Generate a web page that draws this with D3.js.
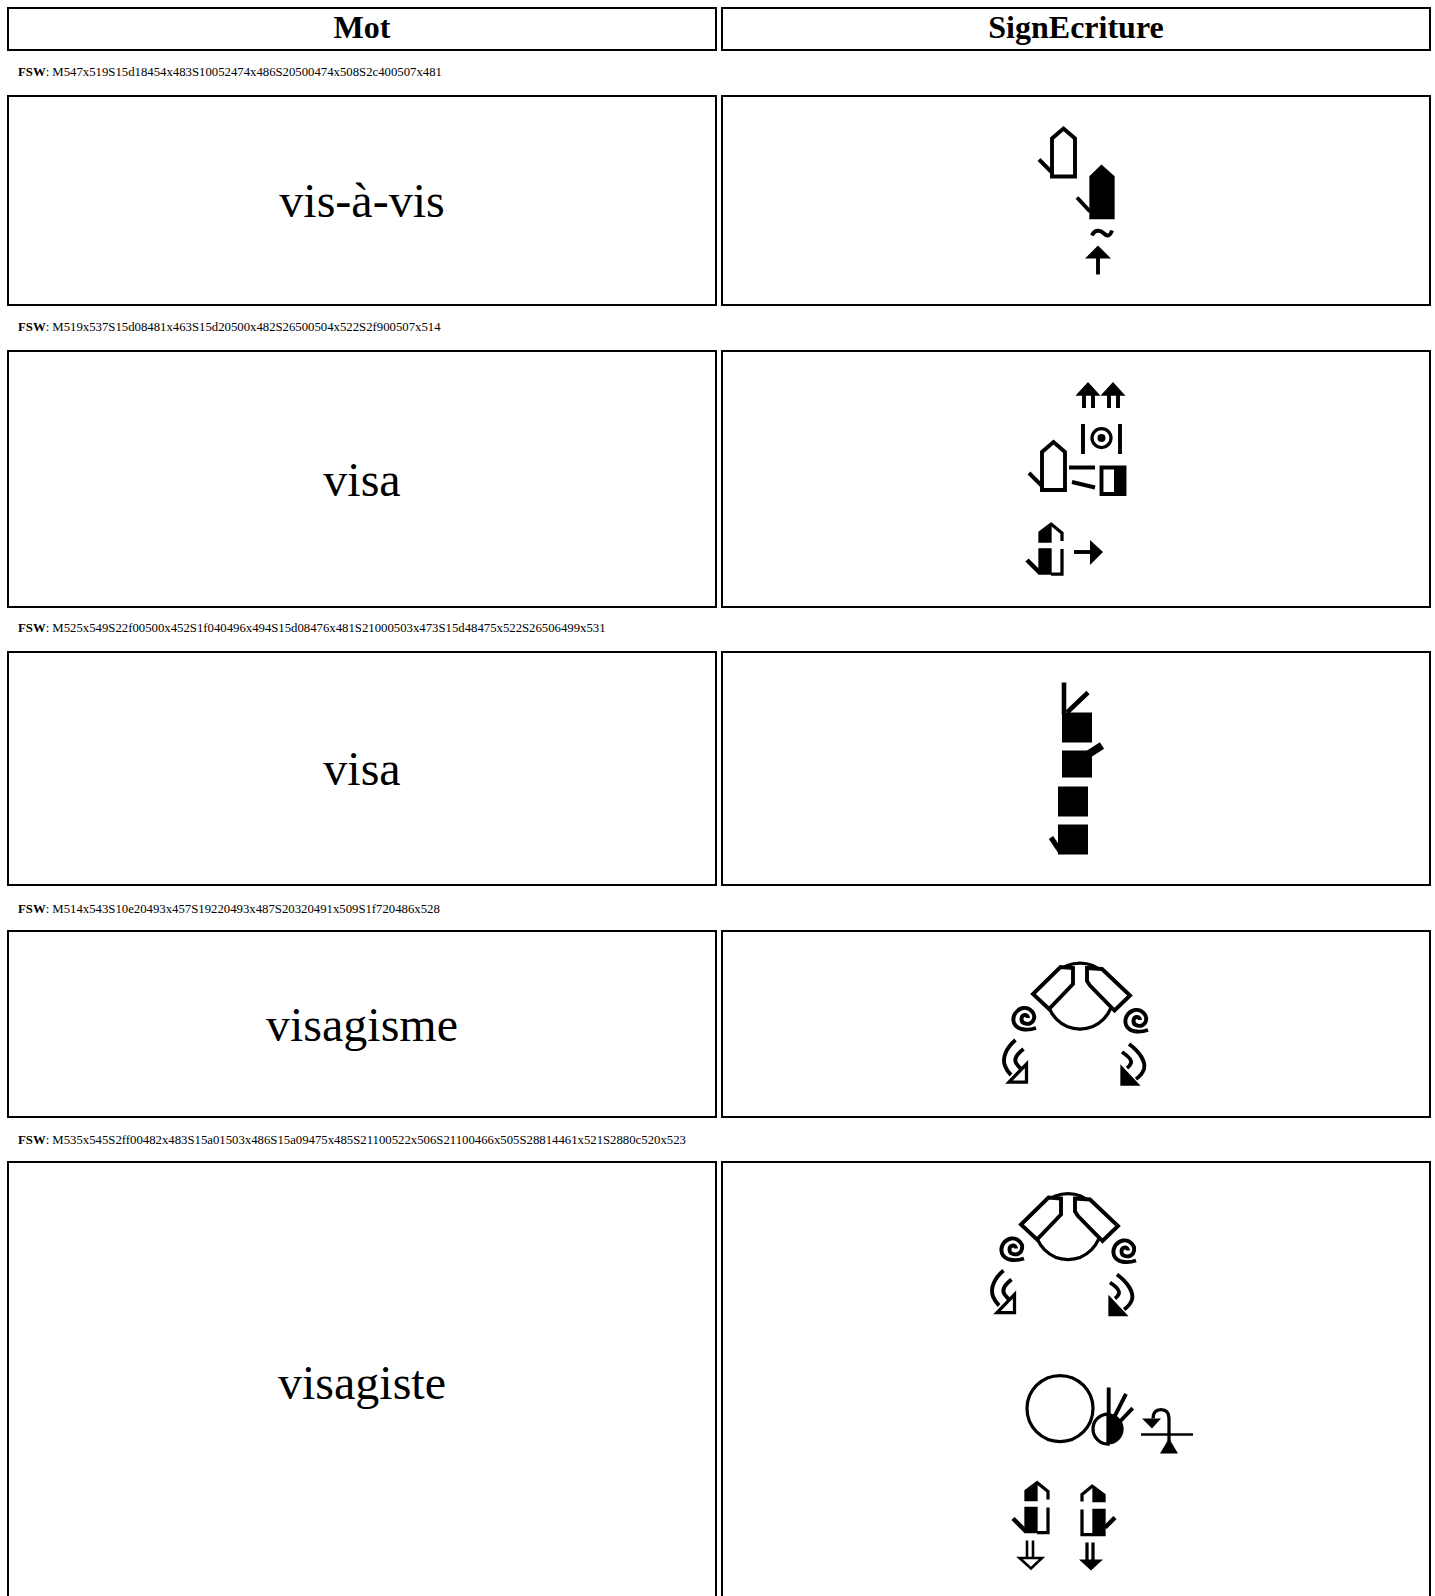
<!DOCTYPE html>
<html>
<head>
<meta charset="utf-8">
<script src="https://cdnjs.cloudflare.com/ajax/libs/d3/7.8.5/d3.min.js"></script>
<style>
html, body { margin: 0; padding: 0; background: #fff; }
svg { display: block; }
text { font-family: "Liberation Serif", serif; fill: #000; }
</style>
</head>
<body>
<script>
// Table content
var headers = ["Mot", "SignEcriture"];
var words = ["vis-à-vis", "visa", "visa", "visagisme", "visagiste"];

// FSW strings printed between the rows
var fswLines = [
  "M547x519S15d18454x483S10052474x486S20500474x508S2c400507x481",
  "M519x537S15d08481x463S15d20500x482S26500504x522S2f900507x514",
  "M525x549S22f00500x452S1f040496x494S15d08476x481S21000503x473S15d48475x522S26506499x531",
  "M514x543S10e20493x457S19220493x487S20320491x509S1f720486x528",
  "M535x545S2ff00482x483S15a01503x486S15a09475x485S21100522x506S21100466x505S28814461x521S2880c520x523"
];
// last row: its string is below the fold, positions estimated from the picture
var lastSign = "M543x597S2ff00478x407S15a01499x410S15a09471x409S21100518x430S21100462x429S28814457x445S2880c516x447" +
  "S2ff00474x498S14c10508x504S2e700532x515S15d48468x551S15d40502x553S22a04471x581S22a00501x582";
var signs = [fswLines[1], fswLines[2], fswLines[3], fswLines[4], lastSign];

// Layout of the page
var colLeft = [8, 722], colRight = [716, 1430];
var headerBox = [8, 50];
var rowBoxes = [[96, 305], [351, 607], [652, 885], [931, 1117], [1162, 1603]];
var fswBaselines = [76, 331, 632, 913, 1144];

// Symbol shapes, px from the symbol's top left corner, one FSW unit = 2px
var K = "#000", W = "#fff";
var glyphs = {
  S15d08: [{d: "M14 50V12L25.5 2L37 12V50Z", fill: W, sw: 3}, {d: "M1 33L14 46", sw: 3}],
  S15d20: [{d: "M14 54V12L25.5 1L38 12V54Z", fill: K, sw: 1}, {d: "M1 33L14 47", sw: 3}],
  S15d48: [{d: "M13 20V10L25 1L25 20Z", fill: K, sw: 1}, {d: "M25 2L36 11V19", sw: 2.5},
           {d: "M13 27H25V52H13Z", fill: K, sw: 1}, {d: "M36 27V52H25", sw: 2.5}, {d: "M1 38L14 51", sw: 3.5}],
  S15d40: [{d: "M13 1L2 10V17", sw: 2.5}, {d: "M13 1L25 10V17H13Z", fill: K, sw: 1},
           {d: "M13 25H25V51H13Z", fill: K, sw: 1}, {d: "M2 25V50H13", sw: 2.5}, {d: "M35 33L25 43", sw: 3.5}],
  S21000: [{d: "M1 0V30M38 0V30", sw: 3}, {d: "M29 14A9.5 9.5 0 1 1 10 14A9.5 9.5 0 1 1 29 14Z", sw: 2.5},
           {d: "M23.5 14A4 4 0 1 1 15.5 14A4 4 0 1 1 23.5 14Z", fill: K, sw: 0}],
  S1f040: [{d: "M1 1.5H27M4 16L27 21.5", sw: 3}, {d: "M33.5 1.5H56.5V28H33.5Z", fill: W, sw: 3}, {d: "M46 1.5H57V28H46Z", fill: K, sw: 0}],
  S22f00: [{d: "M1 13L12 1L23 13ZM26 13L37 1L48 13Z", fill: K, sw: 1}, {d: "M8 12V26M17 12V26M33 12V26M42 12V26", sw: 3}],
  S26506: [{d: "M0 12H18", sw: 3}, {d: "M16 0L29 12L16 25Z", fill: K, sw: 0}],
  S26500: [{d: "M14 1L1 14H27Z", fill: K, sw: 0}, {d: "M14 12V30", sw: 3}],
  S2f900: [{d: "M2 7C5 0 11 2 14 5C17 8 20 8 22 2", sw: 3}],
  S10e20: [{d: "M0 30H30V60H0Z", fill: K, sw: 0}, {d: "M2 0V32M5 30L26 10", sw: 3.5}],
  S19220: [{d: "M0 8H30V35H0Z", fill: K, sw: 0}, {d: "M26 12L40 3", sw: 6}],
  S20320: [{d: "M0 0H30V30H0Z", fill: K, sw: 0}],
  S1f720: [{d: "M10 0H40V30H10Z", fill: K, sw: 0}, {d: "M3 13L13 28", sw: 4}],
  S2ff00: [{d: "M69 34A33 33 0 1 1 3 34A33 33 0 1 1 69 34Z", sw: 2.5}],
  S15a01: [{d: "M1 0L16 1L44 27.5L28.5 42.5L4 17.5L1 13Z", fill: W, sw: 3}],
  S15a09: [{d: "M43 2L30.5 1L3 28L19 43L43 18Z", fill: W, sw: 3}],
  S21100: [{d: "M16 12C16 8 10 8 9.5 12.5C9 18 17 20 21 15C25 8 18 1 11 2C3 4 0 11 2 17C5 24 15 25 24 22", sw: 3}],
  S28814: [{d: "M13.5 2C4 10 0 20 3 28Q5 33 9 37", sw: 3}, {d: "M21.5 11C15 16 12 21 14 25Q16 28 19 31", sw: 3},
           {d: "M24.5 26V44H7Z", fill: W, sw: 2.5}],
  S2880c: [{d: "M9 2C20 10 26 20 24 27Q22 33 16 37", sw: 3}, {d: "M2 10C8 14 12 18 11 21Q10 24 7 26", sw: 3},
           {d: "M1 24V43H19Z", fill: K, sw: 1}],
  S14c10: [{d: "M16 27.5A15 15 0 0 0 16 57.5Z", fill: W, sw: 2.5}, {d: "M16 27.5A15 15 0 0 1 16 57.5Z", fill: K, sw: 1},
           {d: "M16.7 1V28M34 7.3L22 31M40.7 21.7L27 36", sw: 3}],
  S2e700: [{d: "M1 26H53", sw: 2}, {d: "M29 34V10C29 3 25 1 21 1C16 1 13 4 13 10", sw: 2.5},
           {d: "M2 10H21L12 20Z", fill: K, sw: 0}, {d: "M29 30L20 45H38Z", fill: K, sw: 0}],
  S22a04: [{d: "M9 0V17M15 0V17", sw: 2}, {d: "M1.5 17.5H24L13 28Z", fill: W, sw: 2}],
  S22a00: [{d: "M9 0V18M15 0V18", sw: 2.5}, {d: "M1 17H25L13 28Z", fill: K, sw: 0}]
};
var strokeBoost = 1.3;

var svg = d3.select("body").append("svg")
    .attr("width", 1435)
    .attr("height", 1596);

// the signs are scaled images in the original, so soften them a bit
svg.append("defs").append("filter")
    .attr("id", "soft")
    .attr("filterUnits", "userSpaceOnUse")
    .attr("x", 0).attr("y", 0).attr("width", 1435).attr("height", 1596)
  .append("feGaussianBlur").attr("stdDeviation", 0.45);

function box(x0, x1, y0, y1) {
  svg.append("rect")
      .attr("x", x0).attr("y", y0)
      .attr("width", x1 - x0).attr("height", y1 - y0)
      .attr("fill", "#fff")
      .attr("stroke", "#000")
      .attr("stroke-width", 2);
}

// Header row
headers.forEach(function(h, i) {
  box(colLeft[i], colRight[i], headerBox[0], headerBox[1]);
  svg.append("text")
      .attr("x", (colLeft[i] + colRight[i]) / 2)
      .attr("y", (headerBox[0] + headerBox[1]) / 2 + 9)
      .attr("text-anchor", "middle")
      .attr("font-weight", "bold")
      .attr("font-size", 32)
      .text(h);
});

// FSW lines
fswLines.forEach(function(line, i) {
  var t = svg.append("text")
      .attr("x", 18)
      .attr("y", fswBaselines[i])
      .attr("font-size", 12.75);
  t.append("tspan").attr("font-weight", "bold").text("FSW");
  t.append("tspan").text(": " + line);
});

function parseSign(s) {
  var m = /^M(\d{3})x(\d{3})/.exec(s);
  var out = [], re = /S([0-9a-f]{5})(\d{3})x(\d{3})/g, r;
  while ((r = re.exec(s)) !== null) out.push({key: "S" + r[1], x: +r[2], y: +r[3]});
  return {maxX: +m[1], maxY: +m[2], symbols: out};
}

// Word and sign rows
words.forEach(function(word, i) {
  var top = rowBoxes[i][0], bottom = rowBoxes[i][1];
  var cy = (top + bottom) / 2;
  box(colLeft[0], colRight[0], top, bottom);
  box(colLeft[1], colRight[1], top, bottom);

  svg.append("text")
      .attr("x", (colLeft[0] + colRight[0]) / 2)
      .attr("y", cy + 16.5)
      .attr("text-anchor", "middle")
      .attr("font-size", 48)
      .text(word);

  var sign = parseSign(signs[i]);
  var fx = (d3.min(sign.symbols, function(d) { return d.x; }) + sign.maxX) / 2;
  var fy = (d3.min(sign.symbols, function(d) { return d.y; }) + sign.maxY) / 2;
  var cx = (colLeft[1] + colRight[1]) / 2;
  var x = d3.scaleLinear().domain([fx - 100, fx + 100]).range([cx - 200, cx + 200]);
  var y = d3.scaleLinear().domain([fy - 100, fy + 100]).range([cy - 200, cy + 200]);

  var g = svg.append("g").attr("filter", "url(#soft)");
  var sym = g.selectAll("g.sym")
    .data(sign.symbols)
    .enter().append("g")
      .attr("class", "sym")
      .attr("transform", function(d) { return "translate(" + x(d.x) + "," + y(d.y) + ")"; });

  sym.selectAll("path")
    .data(function(d) { return glyphs[d.key]; })
    .enter().append("path")
      .attr("d", function(p) { return p.d; })
      .attr("fill", function(p) { return p.fill || "none"; })
      .attr("stroke", function(p) { return p.sw ? "#000" : "none"; })
      .attr("stroke-width", function(p) { return p.sw * strokeBoost; })
      .attr("stroke-linejoin", "miter");
});
</script>
</body>
</html>
